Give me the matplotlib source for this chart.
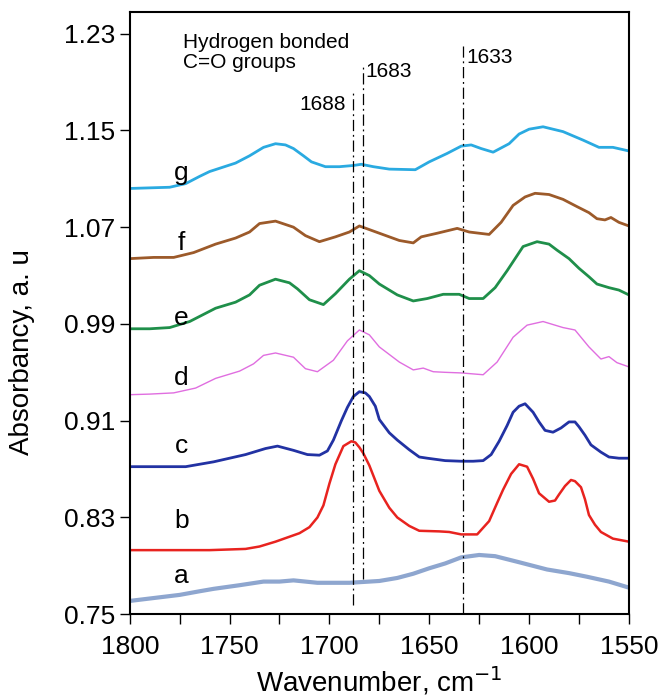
import matplotlib.pyplot as plt
import numpy as np

plt.rcParams['font.family'] = ['Liberation Sans', 'DejaVu Sans']
fontsize = 19

# spectra (wavenumber / absorbancy)
wn_a = [1800, 1790, 1775, 1765, 1758, 1745, 1733, 1725, 1718, 1706, 1690, 1675, 1666, 1658, 1650,
        1642, 1634, 1625, 1617, 1605, 1591, 1580, 1571, 1560, 1550]
abs_a = [0.761, 0.763, 0.766, 0.769, 0.771, 0.774, 0.777, 0.777, 0.778, 0.776, 0.776, 0.7775, 0.780,
         0.7835, 0.788, 0.792, 0.797, 0.799, 0.798, 0.793, 0.787, 0.784, 0.781, 0.777, 0.772]

wn_b = [1800, 1780, 1760, 1742, 1735, 1727, 1715, 1710, 1706, 1703, 1700, 1697, 1693, 1690, 1689,
        1687, 1685, 1683, 1680, 1675, 1670, 1666, 1660, 1655, 1645, 1640, 1634, 1626, 1620, 1616,
        1613, 1609, 1605, 1601, 1598, 1595, 1590, 1587, 1585, 1582, 1579, 1577, 1574, 1572, 1570,
        1567, 1564, 1558, 1550]
abs_b = [0.803, 0.803, 0.803, 0.804, 0.806, 0.810, 0.817, 0.822, 0.830, 0.840, 0.858, 0.874, 0.889,
         0.892, 0.893, 0.892, 0.888, 0.883, 0.873, 0.852, 0.838, 0.830, 0.823, 0.819, 0.8185, 0.818,
         0.816, 0.816, 0.827, 0.842, 0.853, 0.866, 0.874, 0.872, 0.862, 0.850, 0.843, 0.844, 0.849,
         0.856, 0.861, 0.860, 0.855, 0.845, 0.832, 0.824, 0.818, 0.8125, 0.810]

wn_c = [1800, 1785, 1772, 1758, 1742, 1732, 1726, 1718, 1711, 1705, 1701, 1698, 1694, 1691, 1688,
        1685, 1682, 1680, 1677, 1675, 1670, 1666, 1660, 1655, 1651, 1642, 1634, 1628, 1623, 1619,
        1615, 1611, 1608, 1605, 1602, 1598, 1595, 1592, 1588, 1584, 1580, 1577, 1575, 1572, 1569,
        1564, 1560, 1555, 1550]
abs_c = [0.872, 0.872, 0.872, 0.876, 0.882, 0.887, 0.889, 0.8855, 0.882, 0.8815, 0.885, 0.894, 0.910,
         0.921, 0.930, 0.934, 0.933, 0.930, 0.922, 0.911, 0.900, 0.894, 0.886, 0.880, 0.879, 0.877,
         0.8765, 0.8765, 0.877, 0.882, 0.893, 0.906, 0.917, 0.922, 0.924, 0.917, 0.909, 0.902, 0.9005,
         0.904, 0.909, 0.909, 0.905, 0.898, 0.890, 0.884, 0.880, 0.879, 0.879]

wn_d = [1800, 1790, 1778, 1767, 1757, 1745, 1738, 1733, 1727, 1718, 1712, 1706, 1698, 1691, 1685,
        1680, 1675, 1665, 1658, 1653, 1648, 1642, 1634, 1623, 1616, 1608, 1601, 1593, 1583, 1577,
        1574, 1570, 1564, 1560, 1556, 1550]
abs_d = [0.9315, 0.932, 0.933, 0.937, 0.945, 0.951, 0.957, 0.964, 0.966, 0.9625, 0.953, 0.9505, 0.960,
         0.976, 0.985, 0.981, 0.971, 0.9585, 0.952, 0.9535, 0.9505, 0.950, 0.9495, 0.948, 0.9585,
         0.979, 0.989, 0.992, 0.987, 0.985, 0.979, 0.971, 0.961, 0.963, 0.958, 0.9545]

wn_e = [1800, 1790, 1780, 1770, 1757, 1747, 1740, 1735, 1727, 1720, 1716, 1710, 1703, 1697, 1690,
        1685, 1680, 1675, 1670, 1666, 1658, 1651, 1643, 1635, 1630, 1623, 1617, 1611, 1603, 1596,
        1590, 1586, 1580, 1575, 1570, 1566, 1560, 1555, 1550]
abs_e = [0.986, 0.986, 0.987, 0.992, 1.003, 1.008, 1.014, 1.022, 1.027, 1.024, 1.019, 1.010, 1.006,
         1.015, 1.027, 1.034, 1.030, 1.023, 1.018, 1.014, 1.009, 1.011, 1.0145, 1.0145, 1.011, 1.011,
         1.020, 1.034, 1.054, 1.058, 1.056, 1.051, 1.044, 1.036, 1.029, 1.023, 1.020, 1.018, 1.014]

wn_f = [1800, 1788, 1778, 1768, 1757, 1747, 1740, 1735, 1727, 1718, 1712, 1705, 1697, 1690, 1685,
        1680, 1675, 1670, 1665, 1658, 1654, 1646, 1636, 1630, 1620, 1614, 1608, 1602, 1597, 1590,
        1583, 1576, 1570, 1566, 1562, 1559, 1555, 1550]
abs_f = [1.044, 1.045, 1.045, 1.049, 1.056, 1.061, 1.066, 1.073, 1.075, 1.070, 1.063, 1.058, 1.062,
         1.066, 1.071, 1.068, 1.065, 1.062, 1.059, 1.057, 1.062, 1.065, 1.069, 1.066, 1.064, 1.074,
         1.088, 1.095, 1.098, 1.097, 1.093, 1.087, 1.082, 1.077, 1.076, 1.078, 1.074, 1.071]

wn_g = [1800, 1780, 1772, 1765, 1760, 1747, 1740, 1733, 1727, 1722, 1718, 1713, 1709, 1702, 1695,
        1688, 1684, 1678, 1670, 1657, 1650, 1641, 1634, 1629, 1624, 1618, 1610, 1605, 1600, 1593,
        1583, 1573, 1565, 1558, 1550]
abs_g = [1.102, 1.103, 1.106, 1.112, 1.116, 1.123, 1.129, 1.136, 1.139, 1.138, 1.135, 1.129, 1.124,
         1.120, 1.120, 1.121, 1.122, 1.120, 1.118, 1.1175, 1.124, 1.131, 1.137, 1.138, 1.135, 1.132,
         1.139, 1.147, 1.151, 1.153, 1.149, 1.142, 1.136, 1.136, 1.133]

labels = ['a', 'b', 'c', 'd', 'e', 'f', 'g']
label_y = [0.782, 0.827, 0.889, 0.945, 0.995, 1.057, 1.115]
peaks = [1688, 1683, 1633]

fig = plt.figure(figsize=(6.62, 6.98), dpi=100)
ax = fig.add_axes([0.196, 0.12, 0.754, 0.863])

ax.plot(wn_a, abs_a, color='#8ea6cf', lw=3)
ax.plot(wn_b, abs_b, color='#e8231f', lw=1.8)
ax.plot(wn_c, abs_c, color='#2232a3', lw=2)
ax.plot(wn_d, abs_d, color='#e06ee0', lw=1)
ax.plot(wn_e, abs_e, color='#1f8f4a', lw=2)
ax.plot(wn_f, abs_f, color='#9c5a2a', lw=2)
ax.plot(wn_g, abs_g, color='#2aaae1', lw=2)

for lab, y in zip(labels, label_y):
    ax.text(1774, y, lab, fontsize=19, ha='center', va='center')

# dash-dot marker lines for the C=O bands
dashdot = (0, (9, 3, 1.5, 3))
ax.plot([peaks[0], peaks[0]], [0.758, 1.181], color='black', lw=0.9, ls=dashdot)
ax.plot([peaks[1], peaks[1]], [0.779, 1.205], color='black', lw=0.9, ls=dashdot)
ax.plot([peaks[2], peaks[2]], [0.75, 1.220], color='black', lw=0.9, ls=dashdot)
ax.text(1692, 1.1715, str(peaks[0]), fontsize=15, ha='right', va='center')
ax.text(1682, 1.1988, str(peaks[1]), fontsize=15, ha='left', va='center')
ax.text(1631.5, 1.2103, str(peaks[2]), fontsize=15, ha='left', va='center')
ax.text(1773.5, 1.2145, 'Hydrogen bonded\nC=O groups', fontsize=15, ha='left', va='center',
        linespacing=1.1)

ax.set_xlim(1800, 1550)
ax.set_ylim(0.75, 1.248)
ax.set_xticks(np.arange(1800, 1549, -50))
ax.set_xticks(np.arange(1775, 1549, -50), minor=True)
ax.set_yticks([0.75, 0.83, 0.91, 0.99, 1.07, 1.15, 1.23])
ax.set_yticklabels(['0.75', '0.83', '0.91', '0.99', '1.07', '1.15', '1.23'])
ax.tick_params(axis='both', which='both', direction='out', length=7, width=1, labelsize=fontsize)
ax.tick_params(axis='x', pad=8)
for s in ax.spines.values():
    s.set_linewidth(1.5)

ax.set_xlabel('Wavenumber, cm$^{-1}$', fontsize=20, labelpad=4)
ax.set_ylabel('Absorbancy, a. u', fontsize=20)
ax.yaxis.set_label_coords(-0.19, 0.435)

plt.savefig('out.png', dpi=100)
